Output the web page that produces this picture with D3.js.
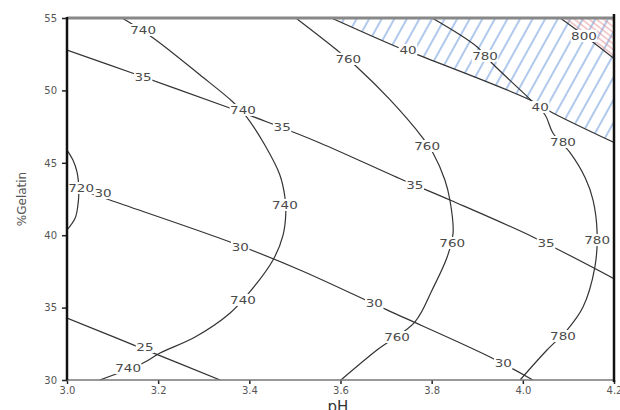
<!DOCTYPE html>
<html>
<head>
<meta charset="utf-8">
<script src="https://cdn.jsdelivr.net/npm/d3@7"></script>
<style>
  body { margin: 0; background: #fff; }
  svg { display: block; font-family: "DejaVu Sans", Verdana, sans-serif; }
  .tick text { fill: #555; font-size: 10px; font-family: "DejaVu Sans", Verdana, sans-serif; }
  .contour { fill: none; stroke: #333; stroke-width: 1.2; }
  .clabel { fill: #4a4a4a; font-size: 10px; }
</style>
</head>
<body>
<div id="chart"></div>
<script>
// axis ticks
const xTicks = [3.0, 3.2, 3.4, 3.6, 3.8, 4.0, 4.2];
const yTicks = [30, 35, 40, 45, 50, 55];

// contour lines: [pH, %gelatin]
const c720 = [[3.0, 45.88], [3.013, 45.19], [3.022, 44.36], [3.026, 43.12], [3.024, 42.09], [3.018, 41.19], [3.0, 40.36]];
const c740 = [[3.121, 55], [3.189, 53.62], [3.292, 51.06], [3.364, 49.2], [3.391, 48.3], [3.434, 46.23], [3.467, 44.16],
  [3.478, 42.64], [3.48, 41.53], [3.474, 40.01], [3.452, 38.29], [3.401, 36.08], [3.358, 34.63], [3.281, 32.97],
  [3.204, 31.86], [3.167, 31.17], [3.072, 30]];
const c760 = [[3.502, 55], [3.592, 52.79], [3.636, 51.62], [3.709, 49.34], [3.779, 46.78], [3.803, 45.68], [3.829, 43.81],
  [3.84, 42.43], [3.847, 40.15], [3.834, 38.49], [3.801, 36.22], [3.763, 34.0], [3.68, 32.07], [3.601, 30]];
const c780 = [[3.801, 55], [3.9, 53.0], [3.932, 51.89], [4.022, 49.2], [4.049, 48.3], [4.066, 47.06], [4.104, 45.68],
  [4.137, 43.95], [4.154, 42.43], [4.163, 40.15], [4.158, 37.8], [4.132, 35.04], [4.097, 33.45], [4.053, 32.07], [3.994, 30]];
const c800 = [[4.082, 55], [4.139, 53.69], [4.2, 52.2]];

const c25 = [[3.0, 34.28], [3.171, 32.1], [3.336, 30]];
const c30 = [[3.0, 43.47], [3.094, 42.43], [3.364, 39.46], [3.511, 37.6], [3.702, 34.84], [3.928, 31.59], [4.022, 30]];
const c35 = [[3.0, 52.79], [3.143, 51.2], [3.351, 48.85], [3.439, 47.82], [3.555, 46.37], [3.737, 43.81], [3.84, 42.43],
  [4.022, 39.88], [4.2, 37.0]];
const c40 = [[3.58, 55], [3.724, 53.0], [3.77, 52.45], [4.016, 49.34], [4.066, 48.44], [4.2, 46.4]];

const contours = [c720, c740, c760, c780, c800, c25, c30, c35, c40];

// contour labels: [text, pH, %gelatin]
const labels = [
  ['740', 3.167, 54.17], ['740', 3.386, 48.65], ['740', 3.478, 42.09], ['740', 3.386, 35.53], ['740', 3.134, 30.83],
  ['720', 3.031, 43.26],
  ['760', 3.617, 52.17], ['760', 3.79, 46.16], ['760', 3.845, 39.46], ['760', 3.724, 32.97],
  ['780', 3.917, 52.38], ['780', 4.088, 46.44], ['780', 4.163, 39.67], ['780', 4.088, 33.04],
  ['800', 4.134, 53.76],
  ['25', 3.171, 32.28],
  ['30', 3.079, 42.91], ['30', 3.38, 39.19], ['30', 3.674, 35.32], ['30', 3.957, 31.17],
  ['35', 3.167, 50.93], ['35', 3.472, 47.47], ['35', 3.763, 43.47], ['35', 4.051, 39.46],
  ['40', 3.748, 52.79], ['40', 4.038, 48.85],
];

const width = 620;
const height = 410;

const svg = d3.select('#chart').append('svg')
  .attr('width', width)
  .attr('height', height);

const x = d3.scaleLinear().domain([3.0, 4.2]).range([67, 614]);
const y = d3.scaleLinear().domain([30, 55]).range([380, 18]);

const defs = svg.append('defs');
defs.append('clipPath').attr('id', 'plot')
  .append('rect')
  .attr('x', x(3.0)).attr('y', y(55))
  .attr('width', x(4.2) - x(3.0)).attr('height', y(30) - y(55));

// hatch patterns
const blue = defs.append('pattern').attr('id', 'blueHatch')
  .attr('patternUnits', 'userSpaceOnUse')
  .attr('width', 11).attr('height', 20)
  .attr('patternTransform', 'rotate(29)');
blue.append('line').attr('x1', 2).attr('x2', 2).attr('y1', 0).attr('y2', 20)
  .attr('stroke', '#6f9bdc').attr('stroke-width', 1.1);

const red = defs.append('pattern').attr('id', 'redHatch')
  .attr('patternUnits', 'userSpaceOnUse')
  .attr('width', 4.5).attr('height', 20)
  .attr('patternTransform', 'rotate(-52)');
red.append('line').attr('x1', 1).attr('x2', 1).attr('y1', 0).attr('y2', 20)
  .attr('stroke', '#e38c8c').attr('stroke-width', 0.9);

const plot = svg.append('g').attr('clip-path', 'url(#plot)');

const area = d3.line().x((d) => x(d[0])).y((d) => y(d[1]));
const line = d3.line().x((d) => x(d[0])).y((d) => y(d[1])).curve(d3.curveCatmullRom);

// region above the 40 contour
plot.append('path')
  .attr('d', area([...c40, [4.2, 55]]) + 'Z')
  .attr('fill', 'url(#blueHatch)');

// region above the 800 contour
plot.append('path')
  .attr('d', area([...c800, [4.2, 55]]) + 'Z')
  .attr('fill', 'url(#redHatch)');

plot.selectAll('path.contour')
  .data(contours)
  .join('path')
  .attr('class', 'contour')
  .attr('d', (d) => line(d));

// white gaps behind the labels first, then all texts on top
const gaps = svg.append('g');
const texts = svg.append('g');

gaps.selectAll('rect')
  .data(labels)
  .join('rect')
  .attr('x', (d) => x(d[1]) - d[0].length * 4.1 - 1)
  .attr('y', (d) => y(d[2]) - 6)
  .attr('width', (d) => d[0].length * 8.2 + 2)
  .attr('height', 12)
  .attr('fill', '#fff');

texts.selectAll('text')
  .data(labels)
  .join('text')
  .attr('class', 'clabel')
  .attr('text-anchor', 'middle')
  .attr('dy', '0.36em')
  .attr('transform', (d) => `translate(${x(d[1])},${y(d[2])}) scale(1.35,1)`)
  .text((d) => d[0]);

// axes
svg.append('g')
  .attr('transform', `translate(0,${y(30)})`)
  .call(d3.axisBottom(x).tickValues(xTicks).tickSize(4).tickPadding(3).tickFormat(d3.format('.1f')))
  .call((g) => g.select('.domain').remove())
  .call((g) => g.selectAll('.tick line').attr('stroke', '#222').attr('stroke-width', 1.5));

svg.append('g')
  .attr('transform', `translate(${x(3.0)},0)`)
  .call(d3.axisLeft(y).tickValues(yTicks).tickSize(5).tickPadding(5).tickFormat(d3.format('d')))
  .call((g) => g.select('.domain').remove())
  .call((g) => g.selectAll('.tick line').attr('stroke', '#222').attr('stroke-width', 1.5));

// frame
svg.append('line')
  .attr('x1', x(3.0)).attr('x2', x(4.2)).attr('y1', y(55)).attr('y2', y(55))
  .attr('stroke', '#888').attr('stroke-width', 3);
svg.append('line')
  .attr('x1', x(3.0)).attr('x2', x(4.2)).attr('y1', y(30)).attr('y2', y(30))
  .attr('stroke', '#777').attr('stroke-width', 1.6);
svg.append('line')
  .attr('x1', x(3.0)).attr('x2', x(3.0)).attr('y1', y(55) - 1).attr('y2', y(30))
  .attr('stroke', '#111').attr('stroke-width', 2.5);
svg.append('line')
  .attr('x1', x(4.2)).attr('x2', x(4.2)).attr('y1', y(55) - 4).attr('y2', y(30) + 2)
  .attr('stroke', '#111').attr('stroke-width', 2.5);

// axis titles
svg.append('text')
  .attr('x', 338).attr('y', 412)
  .attr('text-anchor', 'middle')
  .attr('font-size', 15)
  .attr('fill', '#333')
  .text('pH');

svg.append('text')
  .attr('transform', 'translate(26,199) rotate(-90)')
  .attr('text-anchor', 'middle')
  .attr('font-size', 12)
  .attr('fill', '#555')
  .text('%Gelatin');
</script>
</body>
</html>
